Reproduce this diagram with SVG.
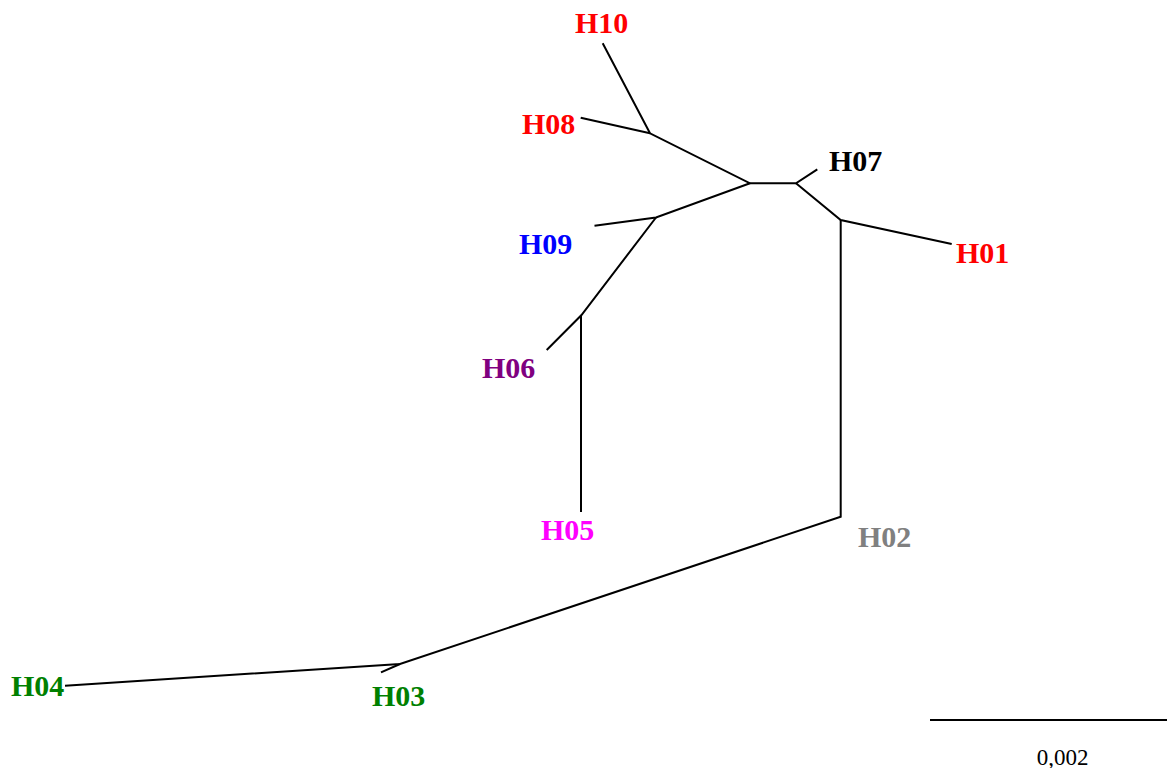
<svg xmlns="http://www.w3.org/2000/svg" width="1167" height="768" viewBox="0 0 1167 768">
<style>
.lbl{font-family:"Liberation Serif","Times New Roman",serif;font-weight:bold;font-size:30px}
.br{stroke:#000;stroke-width:2;fill:none;stroke-linecap:butt;stroke-linejoin:miter}
.scale{font-family:"Liberation Serif","Times New Roman",serif;font-size:23px;fill:#000}
</style>
<rect width="1167" height="768" fill="#fff"/>
<g id="connectors">
<path class="br" d="M602.7,43.3 L650,133.3 L750,183.3 L796,183.3 L817.3,169.3"/>
<path class="br" d="M580.7,117.7 L650,133.3"/>
<path class="br" d="M750,183.3 L656,217.5 L594.5,225.7"/>
<path class="br" d="M656,217.5 L581.5,315 L546.7,350"/>
<path class="br" d="M581,315 L581,512"/>
<path class="br" d="M796,183.3 L840.7,220 L951.7,244"/>
<path class="br" d="M840.7,220 L840.7,516.7 L400,664 L65,685.7"/>
<path class="br" d="M400,664 L381,672.3"/>
</g>
<g id="H10"><text class="lbl" x="575" y="32.5" fill="#FF0000">H10</text></g>
<g id="H08"><text class="lbl" x="522" y="134" fill="#FF0000">H08</text></g>
<g id="H07"><text class="lbl" x="829" y="170.5" fill="#000000">H07</text></g>
<g id="H09"><text class="lbl" x="519" y="254" fill="#0000FF">H09</text></g>
<g id="H06"><text class="lbl" x="482" y="378" fill="#800080">H06</text></g>
<g id="H05"><text class="lbl" x="541" y="540" fill="#FF00FF">H05</text></g>
<g id="H01"><text class="lbl" x="956" y="262.5" fill="#FF0000">H01</text></g>
<g id="H02"><text class="lbl" x="858" y="546.5" fill="#808080">H02</text></g>
<g id="H04"><text class="lbl" x="11" y="696" fill="#008000">H04</text></g>
<g id="H03"><text class="lbl" x="372" y="706" fill="#008000">H03</text></g>
<g id="scalebar">
<line class="br" x1="930" y1="720" x2="1167" y2="720"/>
<text class="scale" x="1062.5" y="765" text-anchor="middle">0,002</text>
</g>
</svg>
